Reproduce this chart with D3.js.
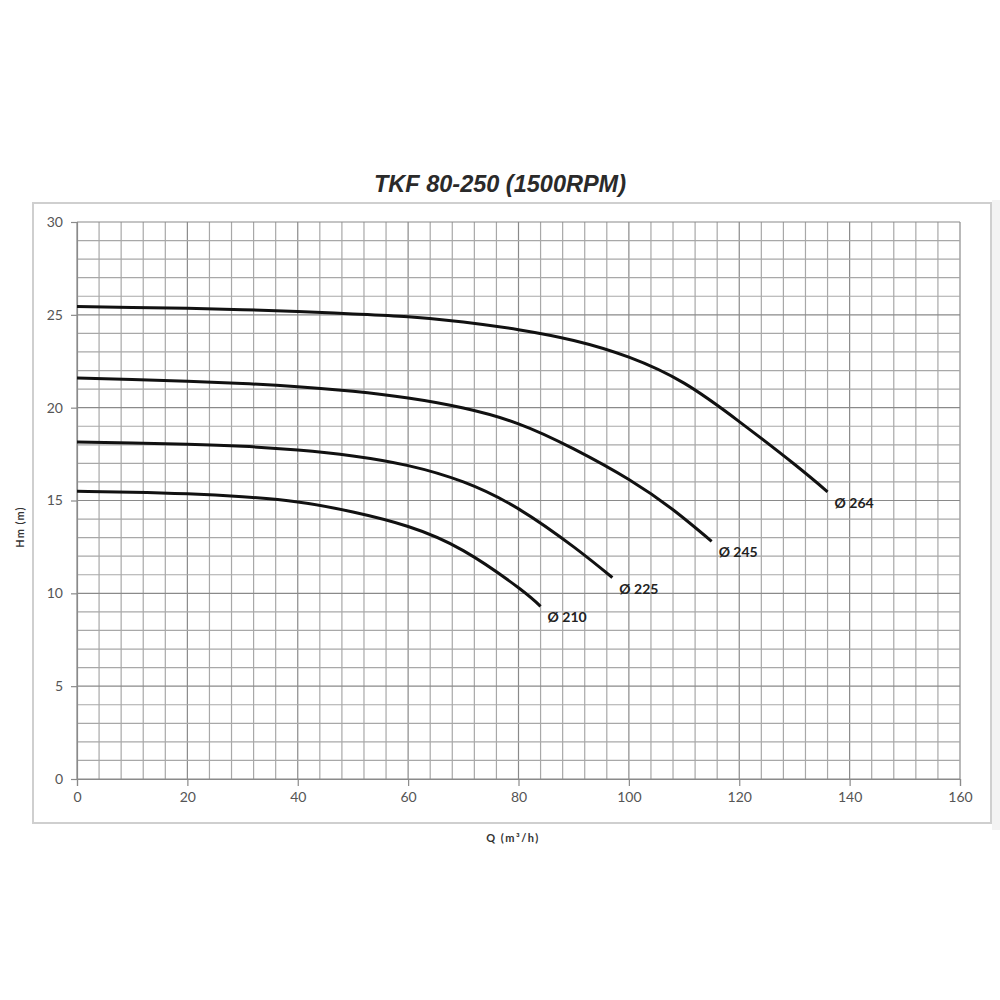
<!DOCTYPE html>
<html>
<head>
<meta charset="utf-8">
<script src="https://cdn.jsdelivr.net/npm/d3@7"></script>
<style>
  body { margin: 0; background: #fff; }
  svg text { font-family: Lato, "Open Sans", sans-serif; }
</style>
</head>
<body>
<svg id="chart" width="1000" height="1000"></svg>
<script>
// pump curves, Q in m3/h, Hm in m
const q264 = [0, 10, 20, 30, 40, 50, 60, 70, 80, 90, 100, 110, 120, 130, 136];
const h264 = [25.45, 25.4, 25.35, 25.28, 25.18, 25.05, 24.9, 24.62, 24.2, 23.62, 22.72, 21.32, 19.25, 16.95, 15.47];
const q245 = [0, 10, 20, 30, 40, 50, 60, 70, 80, 90, 100, 108, 115];
const h245 = [21.6, 21.52, 21.42, 21.3, 21.13, 20.88, 20.52, 19.98, 19.13, 17.78, 16.13, 14.5, 12.8];
const q225 = [0, 10, 20, 30, 40, 50, 60, 70, 80, 90, 97];
const h225 = [18.15, 18.1, 18.03, 17.92, 17.72, 17.4, 16.88, 16.0, 14.55, 12.5, 10.85];
const q210 = [0, 10, 20, 30, 40, 50, 60, 70, 80, 84];
const h210 = [15.5, 15.45, 15.36, 15.2, 14.92, 14.38, 13.6, 12.3, 10.3, 9.3];

const diameters = ["Ø 264", "Ø 245", "Ø 225", "Ø 210"];
const xTicks = [0, 20, 40, 60, 80, 100, 120, 140, 160];
const yTicks = [0, 5, 10, 15, 20, 25, 30];
const xGrid = d3.range(0, 161, 4);
const yGrid = d3.range(0, 31, 1);

const series = [
  {name: diameters[0], q: q264, h: h264},
  {name: diameters[1], q: q245, h: h245},
  {name: diameters[2], q: q225, h: h225},
  {name: diameters[3], q: q210, h: h210},
].map(s => ({name: s.name, pts: s.q.map((q, i) => ({q: q, h: s.h[i]}))}));

const svg = d3.select("#chart");
const marginLeft = 77, plotRight = 960, plotTop = 222, plotBottom = 779;

const x = d3.scaleLinear([0, 160], [marginLeft, plotRight]);
const y = d3.scaleLinear([0, 30], [plotBottom, plotTop]);

// frame around the chart
svg.append("rect")
  .attr("x", 992).attr("y", 200).attr("width", 8).attr("height", 630)
  .attr("fill", "#f3f3f3");
svg.append("rect")
  .attr("x", 33).attr("y", 203).attr("width", 958).attr("height", 620)
  .attr("fill", "#fff").attr("stroke", "#cfcfcf").attr("stroke-width", 2);

// grid
svg.append("g").selectAll("line")
  .data(xGrid).join("line")
  .attr("x1", d => x(d)).attr("x2", d => x(d))
  .attr("y1", plotTop).attr("y2", plotBottom)
  .attr("stroke", d => d % 20 === 0 ? "#8a8a8a" : "#a8a8a8")
  .attr("stroke-width", 1.2);

svg.append("g").selectAll("line")
  .data(yGrid).join("line")
  .attr("x1", marginLeft).attr("x2", plotRight)
  .attr("y1", d => y(d)).attr("y2", d => y(d))
  .attr("stroke", d => d % 5 === 0 ? "#8a8a8a" : "#a8a8a8")
  .attr("stroke-width", 1.2);

// axes
const xAxis = d3.axisBottom(x).tickValues(xTicks).tickSize(7).tickPadding(6);
const yAxis = d3.axisLeft(y).tickValues(yTicks).tickSize(6).tickPadding(8);

const gx = svg.append("g").attr("transform", `translate(0,${plotBottom})`).call(xAxis);
const gy = svg.append("g").attr("transform", `translate(${marginLeft},0)`).call(yAxis);
[gx, gy].forEach(g => {
  g.select(".domain").attr("stroke", "#8a8a8a").attr("stroke-width", 1.2);
  g.selectAll(".tick line").attr("stroke", "#8a8a8a").attr("stroke-width", 1.2);
  g.selectAll(".tick text")
    .attr("fill", "#555")
    .style("font-family", "Lato, 'Open Sans', sans-serif")
    .style("font-size", "14px");
});

// curves
const line = d3.line()
  .x(d => x(d.q))
  .y(d => y(d.h))
  .curve(d3.curveNatural);

svg.append("g").selectAll("path")
  .data(series).join("path")
  .attr("d", d => line(d.pts))
  .attr("fill", "none")
  .attr("stroke", "#111")
  .attr("stroke-width", 3);

svg.append("g").selectAll("text")
  .data(series).join("text")
  .attr("x", d => x(d.pts[d.pts.length - 1].q) + 7)
  .attr("y", d => y(d.pts[d.pts.length - 1].h) + 16)
  .attr("fill", "#222")
  .attr("font-weight", "bold")
  .style("font-size", "14px")
  .text(d => d.name);

// titles
svg.append("text")
  .attr("x", 500).attr("y", 192)
  .attr("text-anchor", "middle")
  .attr("fill", "#2a2a2a")
  .attr("font-weight", "bold")
  .attr("font-style", "italic")
  .style("font-family", "'Liberation Sans', Arial, sans-serif")
  .style("font-size", "23.5px")
  .text("TKF 80-250 (1500RPM)");

svg.append("text")
  .attr("transform", "translate(24,527) rotate(-90)")
  .attr("text-anchor", "middle")
  .attr("fill", "#333")
  .attr("font-weight", "bold")
  .style("font-size", "11px")
  .style("letter-spacing", "1px")
  .text("Hm (m)");

svg.append("text")
  .attr("x", 513).attr("y", 842)
  .attr("text-anchor", "middle")
  .attr("fill", "#333")
  .attr("font-weight", "bold")
  .style("font-size", "11px")
  .style("letter-spacing", "1.5px")
  .text("Q (m³/h)");
</script>
</body>
</html>
